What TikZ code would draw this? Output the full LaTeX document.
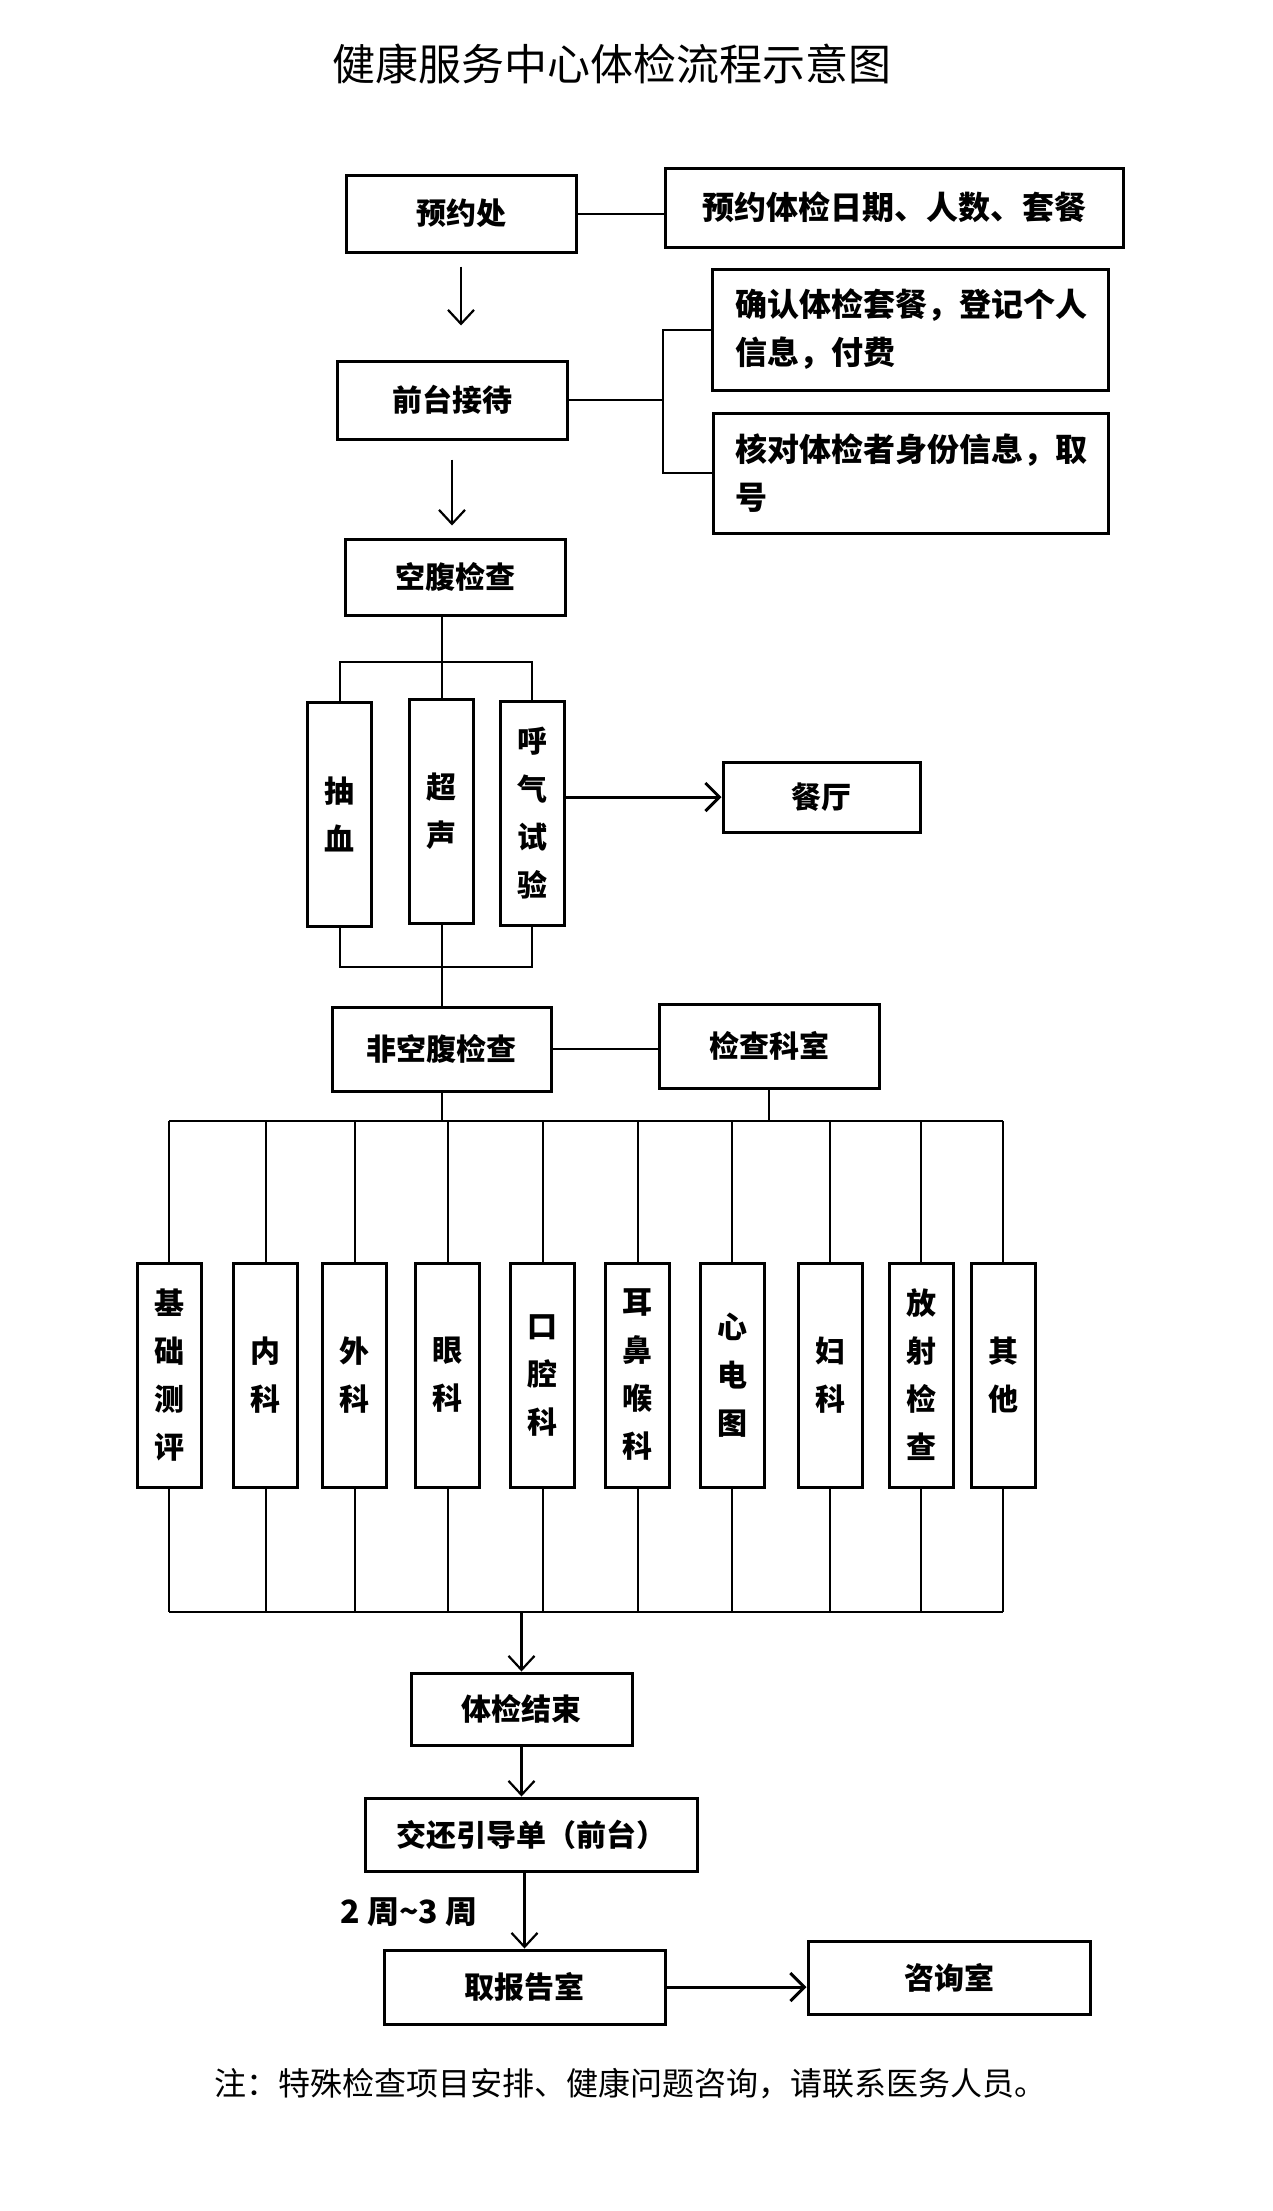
\documentclass[tikz,border=0pt]{standalone}
\usepackage{fontspec}
\setmainfont{Noto Sans CJK SC}
\usetikzlibrary{arrows.meta}
\newcommand\bxfnt{\fontsize{30pt}{48pt}\selectfont\bfseries}
\newcommand\bxfntL{\fontsize{32pt}{48pt}\selectfont\bfseries}
\newcommand\ttlfnt{\fontsize{43pt}{50pt}\selectfont}
\newcommand\notefnt{\fontsize{32pt}{40pt}\selectfont}
\begin{document}
\begin{tikzpicture}[x=1pt,y=-1pt,
  box/.style={draw, line width=3pt, inner sep=0pt, font=\bxfnt},
  boxL/.style={box, font=\bxfntL},
  col/.style={box, minimum width=64pt, minimum height=224pt, align=center},
  ln/.style={line width=2pt},
  arr/.style={line width=2.2pt, -{Straight Barb[length=14pt,width=26pt]}},
  arrthick/.style={line width=3pt, -{Straight Barb[length=14pt,width=28pt]}}]
\useasboundingbox (0,0) rectangle (1272,2211);
\fill[white] (0,0) rectangle (1272,2211);

% title
\node[font=\ttlfnt] (title) at (612,64) {健康服务中心体检流程示意图};

% top part
\node[box, minimum width=230pt, minimum height=77pt] (yy) at (461,213.5) {预约处};
\node[boxL, minimum width=458pt, minimum height=79pt] (yyinfo) at (894,207.5) {预约体检日期、人数、套餐};
\node[box, minimum width=230pt, minimum height=78pt] (qt) at (452,400) {前台接待};
\node[boxL, minimum width=396pt, minimum height=121pt, text width=350pt, align=left] (qr) at (910,329.5) {确认体检套餐，登记个人\\信息，付费};
\node[boxL, minimum width=395pt, minimum height=120pt, text width=350pt, align=left] (hd) at (910.5,473) {核对体检者身份信息，取\\号};
\node[box, minimum width=220pt, minimum height=76pt] (kf) at (455,577) {空腹检查};

\draw[ln] (yy.east) -- (yy.east -| yyinfo.west);
\draw[arr, shorten <=13pt, shorten >=34pt] (yy.south) -- (yy.south |- qt.north);
\coordinate (br) at (663,400);
\draw[ln] (qt.east) -- (br);
\draw[ln] (qr.west) -| (br) |- (hd.west);
\draw[arr, shorten <=19pt, shorten >=12pt] (qt.south) -- (qt.south |- kf.north);

% fasting tests
\node[col] (cx) at (339.5,814) {抽\\血};
\node[col] (cs) at (441.5,811.5) {超\\声};
\node[col] (hq) at (532,813) {呼\\气\\试\\验};
\node[box, minimum width=197pt, minimum height=70pt] (ct) at (821.5,797) {餐厅};

\coordinate (busA) at (441.5,662);
\coordinate (busB) at (441.5,967);
\draw[ln] (kf.south -| cs.north) -- (cs.north);
\draw[ln] (cx.north) |- (busA) -| (hq.north);
\draw[ln] (cx.south) |- (busB) -| (hq.south);
\draw[arrthick] (hq.east |- ct.west) -- (ct.west);

% non-fasting
\node[box, minimum width=219pt, minimum height=84pt] (fk) at (441.5,1049) {非空腹检查};
\node[box, minimum width=220pt, minimum height=84pt] (ks) at (769,1046) {检查科室};
\draw[ln] (cs.south) -- (fk.north -| cs.south);
\draw[ln] (fk.east) -- (fk.east -| ks.west);

% departments
\node[col] (c1) at (169,1375) {基\\础\\测\\评};
\node[col] (c2) at (265.5,1375) {内\\科};
\node[col] (c3) at (354.5,1375) {外\\科};
\node[col] (c4) at (447.5,1375) {眼\\科};
\node[col] (c5) at (542.5,1375) {口\\腔\\科};
\node[col] (c6) at (637.5,1375) {耳\\鼻\\喉\\科};
\node[col] (c7) at (732,1375) {心\\电\\图};
\node[col] (c8) at (830,1375) {妇\\科};
\node[col] (c9) at (921,1375) {放\\射\\检\\查};
\node[col] (c10) at (1003,1375) {其\\他};

\coordinate (busT) at (0,1121);
\coordinate (busU) at (0,1612);
\draw[ln] (fk.south) -- (fk.south |- busT);
\draw[ln] (ks.south) -- (ks.south |- busT);
\draw[ln] (c1.north |- busT) -- (c10.north |- busT);
\draw[ln] (c1.south |- busU) -- (c10.south |- busU);
\foreach \i in {1,...,10}{
  \draw[ln] (c\i.north) -- (c\i.north |- busT);
  \draw[ln] (c\i.south) -- (c\i.south |- busU);
}

% end part
\node[box, minimum width=221pt, minimum height=72pt] (js) at (521.5,1709) {体检结束};
\node[box, minimum width=332pt, minimum height=73pt] (jh) at (531,1834.5) {交还引导单（前台）};
\node[box, minimum width=281pt, minimum height=74pt] (qb) at (524.5,1987) {取报告室};
\node[box, minimum width=282pt, minimum height=73pt] (zx) at (949,1977.5) {咨询室};

\draw[arr] (js.north |- busU) -- (js.north);
\draw[arr] (js.south) -- (js.south |- jh.north);
\draw[arr] (qb.north |- jh.south) -- (qb.north);
\draw[arrthick] (qb.east) -- (qb.east -| zx.west);
\node[font=\fontsize{32pt}{36pt}\selectfont\bfseries] (wk) at (409,1912) {2 周\textasciitilde 3 周};

% note
\node[font=\notefnt] (note) at (630,2084) {注：特殊检查项目安排、健康问题咨询，请联系医务人员。};
\end{tikzpicture}
\end{document}
